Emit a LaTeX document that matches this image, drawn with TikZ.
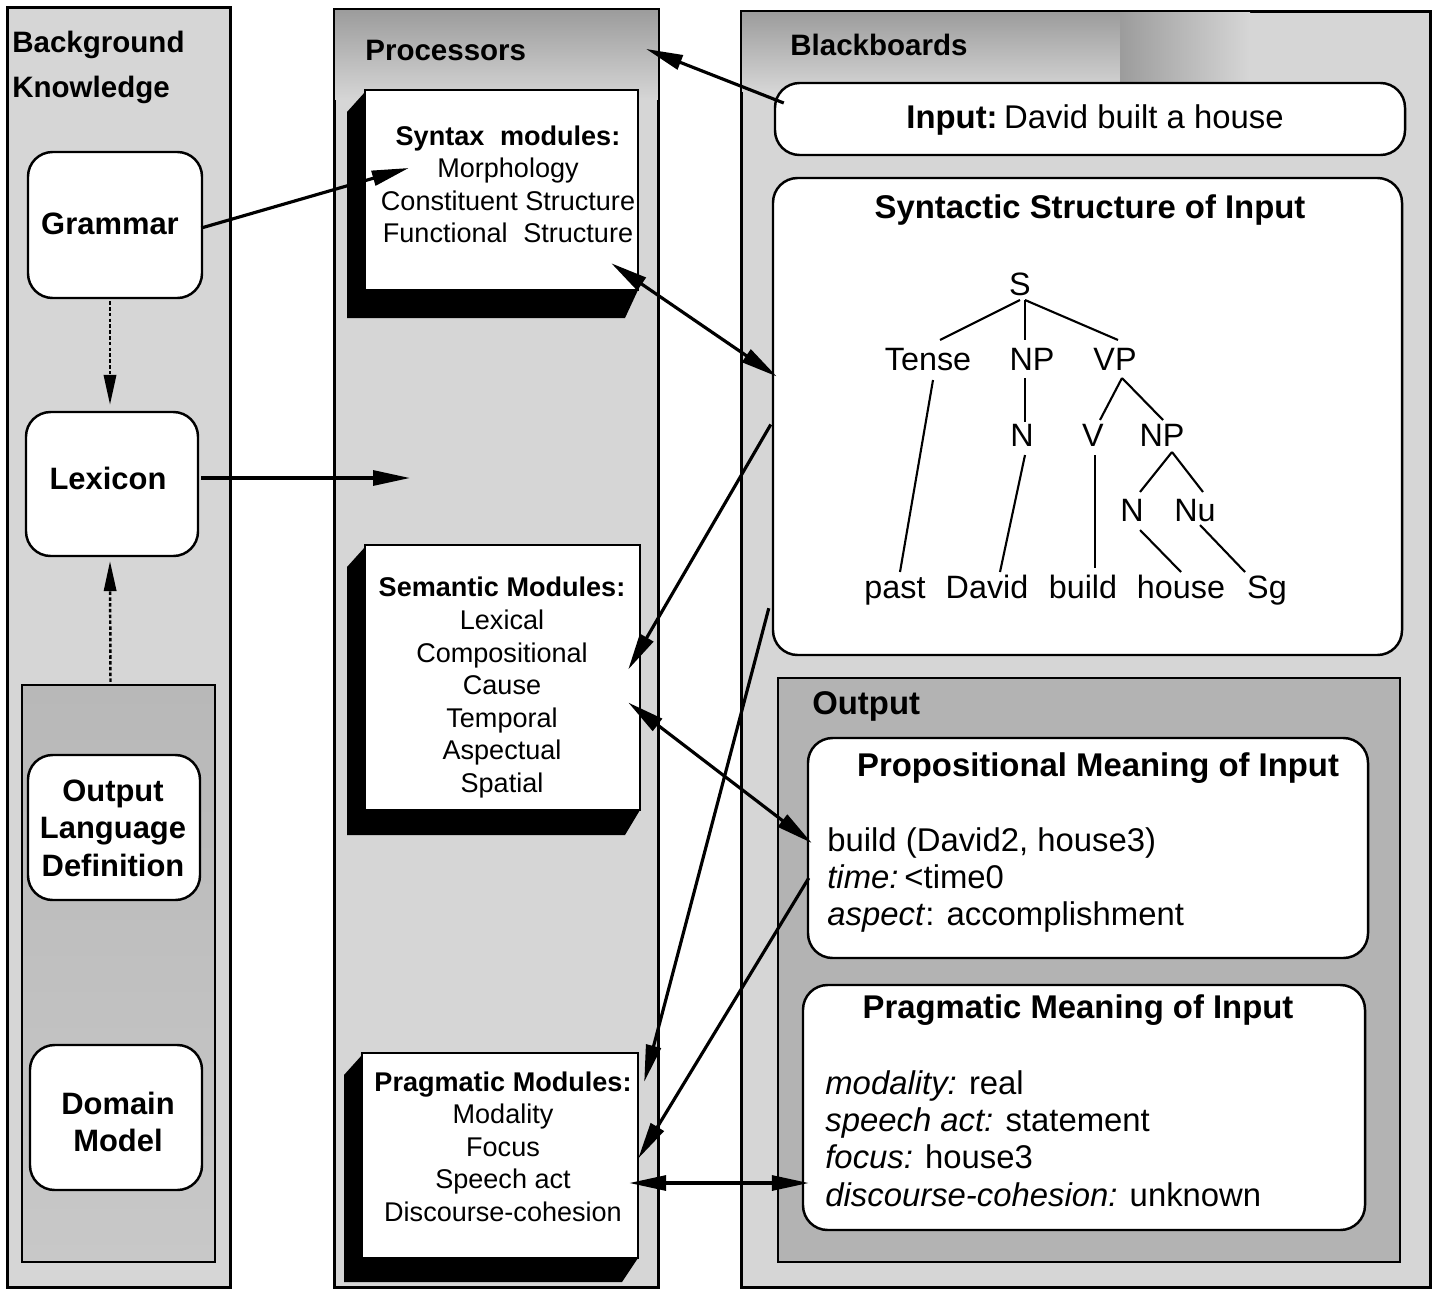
\documentclass[tikz,border=0pt]{standalone}
\usepackage{fontspec}
\setmainfont{Liberation Sans}
\usetikzlibrary{arrows.meta,fit,calc}
\definecolor{colfill}{HTML}{D6D6D6}
\definecolor{banddark}{HTML}{9C9C9C}
\definecolor{bandmid}{HTML}{B8B8B8}
\definecolor{innertop}{HTML}{B8B8B8}
\definecolor{innermid}{HTML}{9E9E9E}
\definecolor{innerbot}{HTML}{C8C8C8}
\definecolor{outfill}{HTML}{B3B3B3}
\begin{document}
\begin{tikzpicture}[x=0.02cm,y=-0.02cm,
  col/.style={draw=black, line width=1.2pt, fill=colfill, inner sep=0pt},
  colline/.style={draw=black, line width=1.2pt},
  region/.style={draw=black, line width=1.2pt, inner sep=0pt},
  rbox/.style={draw=black, line width=1.4pt, fill=white, rounded corners=14pt, inner sep=0pt},
  modbox/.style={draw=black, line width=1.4pt, fill=white, inner sep=0pt},
  fbig/.style={font=\fontsize{18.7pt}{21.2pt}\selectfont, inner sep=0pt},
  fbigb/.style={font=\fontsize{18.7pt}{21.2pt}\selectfont\bfseries, inner sep=0pt},
  fmod/.style={font=\fontsize{15.4pt}{18.5pt}\selectfont, inner sep=0pt},
  fleft/.style={font=\fontsize{17.6pt}{21.4pt}\selectfont\bfseries, inner sep=0pt},
  ftitle/.style={font=\fontsize{16.8pt}{25.5pt}\selectfont\bfseries, inner sep=0pt},
  tn/.style={font=\fontsize{18.4pt}{21pt}\selectfont, inner sep=0pt, text height=13.2pt, text depth=3.9pt},
  tedge/.style={line width=1.2pt},
  arr/.style={line width=1.8pt, -{Triangle[length=21pt,width=8.5pt]}},
  darr/.style={line width=1.8pt, {Triangle[length=21pt,width=8.5pt]}-{Triangle[length=21pt,width=8.5pt]}},
  dotarr/.style={line width=1.4pt, dash pattern=on 2pt off 1.3pt, -{Triangle[length=17pt,width=7pt]}}
]
\useasboundingbox (0,0) rectangle (1436,1291);
\fill[white] (0,0) rectangle (1436,1291);

% ---------- columns ----------
\node[col, fit={(8,8)(230,1287)}] (colbk) {};
\node[col, fit={(335,10)(658,1287)}] (colproc) {};
\node[col, fit={(742,12)(1430,1287)}] (colbb) {};
\shade[top color=banddark, bottom color=colfill] (335,10) rectangle (658,100);
\shade[top color=banddark, bottom color=colfill] (742,12) rectangle (1120,92);
\shade[left color=banddark, right color=colfill] (1120,12) rectangle (1250,92);
\draw[colline] (colbk.north west) rectangle (colbk.south east);
\draw[colline] (colproc.north west) rectangle (colproc.south east);
\draw[colline] (colbb.north west) rectangle (colbb.south east);

% ---------- background knowledge ----------
\node[ftitle, align=left, anchor=west] (tbk) at (12,67.5) {Background\\Knowledge};
\node[rbox, fit={(28,152)(202,298)}] (gram) {};
\node[fleft] (tgram) at (110,224) {Grammar};
\node[rbox, fit={(26,412)(198,556)}] (lex) {};
\node[fleft] (tlex) at (108,478) {Lexicon};
\node[region, top color=innertop, middle color=innermid, bottom color=innerbot, fit={(22,685)(215,1262)}] (kbin) {};
\node[rbox, fit={(28,755)(200,900)}] (old) {};
\node[fleft, align=center] (told) at (113,828) {Output\\Language\\Definition};
\node[rbox, fit={(30,1045)(202,1190)}] (dom) {};
\node[fleft, align=center] (tdom) at (118,1122) {Domain\\Model};

% ---------- processors ----------
\node[ftitle, anchor=west] (tproc) at (365,50) {Processors};
\coordinate (synNW) at (365,90);
\coordinate (synSE) at (638,290);
\fill[black] ($(synNW)+(0,2)$) -- ++(-18,20) -- ($(synNW|-synSE)+(-18,28)$) -- ($(synSE)+(-13,28)$) -- (synSE) -- cycle;
\node[modbox, fit=(synNW)(synSE)] (synbox) {};
\node[fmod, align=center] (tsyn) at (508,184.5) {\textbf{Syntax\hspace{0.3em} modules:}\\Morphology\\Constituent Structure\\Functional\hspace{0.3em} Structure};

\coordinate (semNW) at (365,545);
\coordinate (semSE) at (640,810);
\fill[black] ($(semNW)+(0,2)$) -- ++(-18,20) -- ($(semNW|-semSE)+(-18,25)$) -- ($(semSE)+(-15,25)$) -- (semSE) -- cycle;
\node[modbox, fit=(semNW)(semSE)] (sembox) {};
\node[fmod, align=center] (tsem) at (502,687.5) {\textbf{Semantic Modules:}\\Lexical\\Compositional\\Cause\\Temporal\\Aspectual\\Spatial};

\coordinate (prgNW) at (362,1053);
\coordinate (prgSE) at (638,1258);
\fill[black] ($(prgNW)+(0,2)$) -- ++(-18,20) -- ($(prgNW|-prgSE)+(-18,24)$) -- ($(prgSE)+(-16,24)$) -- (prgSE) -- cycle;
\node[modbox, fit=(prgNW)(prgSE)] (pragbox) {};
\node[fmod, align=center] (tprg) at (503,1146.5) {\textbf{Pragmatic Modules:}\\Modality\\Focus\\Speech act\\Discourse-cohesion};

% ---------- blackboards ----------
\node[ftitle, anchor=west] (tbb) at (790,45) {Blackboards};
\node[rbox, fit={(775,83)(1405,155)}] (input) {};
\node[fbig] (tin) at (1095,120) {\textbf{Input:}\hspace{0.2em}David built a house};
\node[rbox, fit={(773,178)(1402,655)}] (synstr) {};
\node[fbigb] (tsst) at (1090,210) {Syntactic Structure of Input};

% tree
\node[tn] (tS) at (1020,287) {S};
\node[tn] (tTense) at (928,362) {Tense};
\node[tn] (tNPa) at (1032,362) {NP};
\node[tn] (tVP) at (1115,362) {VP};
\node[tn] (tNa) at (1022,438) {N};
\node[tn] (tV) at (1093,438) {V};
\node[tn] (tNPb) at (1162,438) {NP};
\node[tn] (tNb) at (1132,513) {N};
\node[tn] (tNu) at (1195,513) {Nu};
\node[tn] (tpast) at (895,590) {past};
\node[tn] (tDavid) at (987,590) {David};
\node[tn] (tbuild) at (1083,590) {build};
\node[tn] (thouse) at (1181,590) {house};
\node[tn] (tSg) at (1267,590) {Sg};
\draw[tedge] ($(tS)+(0,13)$) -- ($(tTense)+(12,-22)$);
\draw[tedge] ($(tS)+(5,13)$) -- ($(tNPa)+(-7,-22)$);
\draw[tedge] ($(tS)+(5,13)$) -- ($(tVP)+(3,-22)$);
\draw[tedge] ($(tTense)+(5,18)$) -- ($(tpast)+(5,-18)$);
\draw[tedge] ($(tNPa)+(-7,16)$) -- ($(tNa)+(3,-16)$);
\draw[tedge] ($(tNa)+(3,17)$) -- ($(tDavid)+(13,-18)$);
\draw[tedge] ($(tVP)+(7,16)$) -- ($(tV)+(7,-18)$);
\draw[tedge] ($(tVP)+(7,16)$) -- ($(tNPb)+(1,-18)$);
\draw[tedge] ($(tV)+(2,17)$) -- ($(tbuild)+(12,-22)$);
\draw[tedge] ($(tNPb)+(10,14)$) -- ($(tNb)+(8,-21)$);
\draw[tedge] ($(tNPb)+(10,14)$) -- ($(tNu)+(8,-21)$);
\draw[tedge] ($(tNb)+(8,17)$) -- ($(thouse)+(0,-18)$);
\draw[tedge] ($(tNu)+(5,12)$) -- ($(tSg)+(-22,-18)$);

% output
\node[region, fill=outfill, fit={(778,678)(1400,1262)}] (outbox) {};
\node[fbigb, anchor=west] (tout) at (812,706) {Output};
\node[rbox, fit={(808,738)(1368,958)}] (prop) {};
\node[fbigb] (tprop) at (1098,768) {Propositional Meaning of Input};
\node[fbig, align=left, anchor=west] (tpropb) at (827,880) {build (David2, house3)\\\textit{time:}\hspace{0.18em}<time0\\\textit{aspect}: accomplishment};
\node[rbox, fit={(803,985)(1365,1230)}] (pragm) {};
\node[fbigb] (tpragm) at (1078,1010) {Pragmatic Meaning of Input};
\node[fbig, align=left, anchor=west] (tpragmb) at (825,1138.5) {\textit{modality:} real\\\textit{speech act:} statement\\\textit{focus:} house3\\\textit{discourse-cohesion:} unknown};

% ---------- arrows ----------
\coordinate (lexend) at (410,478);
\draw[arr] ($(input.west)+(10,-16)$) -- ($(colproc.north east)+(-13,40)$);
\draw[darr] ($(synbox.south east)+(-28,-28)$) -- ($(synstr.west)+(5,-40)$);
\draw[arr] ($(synstr.west)+(-1,8)$) -- ($(sembox.east)+(-13,-8)$);
\draw[darr] ($(sembox.east)+(-13,25)$) -- ($(prop.west)+(5,-5)$);
\draw[arr] ($(synstr.south west)+(-3,-48)$) -- ($(pragbox.north east)+(5,30)$);
\draw[arr] ($(prop.west)+(2,30)$) -- ($(pragbox.east)+(-1,3)$);
\draw[darr] ($(pragbox.east)+(-10,27.5)$) -- ($(pragm.west)+(7,75.5)$);
\draw[arr] ($(gram.east)+(-2,3)$) -- ($(synbox.west)+(45,-22)$);
\draw[arr] ($(lex.east)+(2,-6)$) -- (lexend);
\draw[dotarr] ($(gram.south)+(-5,2)$) -- ($(lex.north)+(-2,-6)$);
\draw[dotarr] ($(kbin.north)+(-8,-2)$) -- ($(lex.south)+(-2,4)$);
\end{tikzpicture}
\end{document}
